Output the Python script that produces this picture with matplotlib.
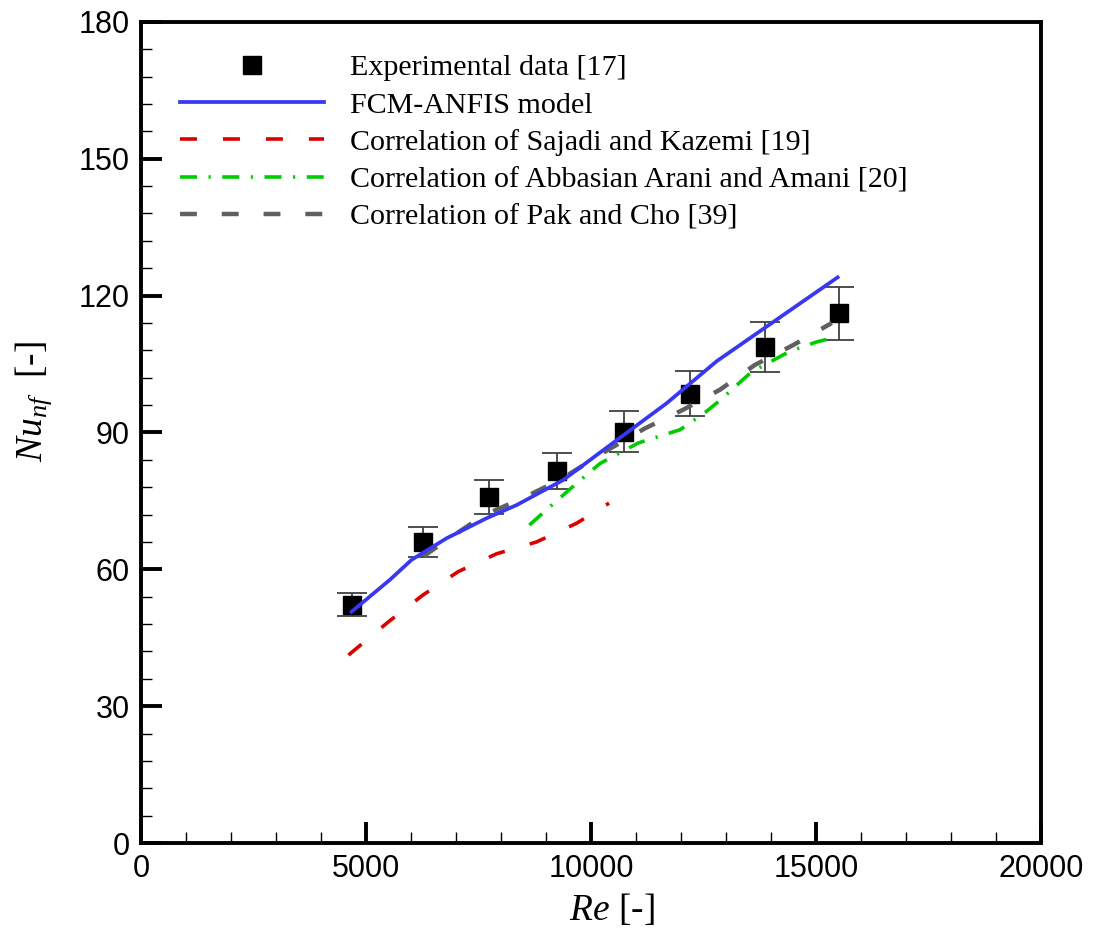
import matplotlib
matplotlib.use('Agg')
import matplotlib.pyplot as plt
from matplotlib.ticker import MultipleLocator

plt.rcParams['mathtext.fontset'] = 'custom'
plt.rcParams['mathtext.it'] = 'Liberation Serif:italic'
plt.rcParams['mathtext.rm'] = 'Liberation Serif'

# experimental data [17]
re_exp = [4680, 6270, 7730, 9250, 10740, 12210, 13870, 15510]
nu_exp = [52.2, 66.0, 75.9, 81.6, 90.2, 98.5, 108.8, 116.1]
nu_err = [2.5, 3.2, 3.7, 3.9, 4.5, 5.0, 5.5, 5.8]

# FCM-ANFIS model
re_anfis = [4680, 5530, 6015, 6790, 7680, 8350, 9385, 10200, 11680, 12790, 13900, 15480]
nu_anfis = [50.7, 57.7, 62.1, 66.8, 71.2, 74.1, 79.6, 85.6, 96.4, 105.6, 113.2, 124.0]

# Sajadi and Kazemi [19]
re_sk = [4610, 5500, 6270, 7050, 7900, 8790, 9680, 10400]
nu_sk = [41.2, 48.5, 54.4, 59.5, 63.4, 66.0, 70.1, 74.5]

# Abbasian Arani and Amani [20]
re_aa = [8630, 9130, 9640, 10200, 11050, 11980, 12550, 12860, 13570, 14420, 15000, 15400]
nu_aa = [69.7, 74.1, 78.5, 83.2, 87.7, 90.6, 94.5, 97.0, 103.3, 107.8, 109.8, 110.8]

# Pak and Cho [39]
re_pc = [6270, 6790, 7610, 8460, 9310, 10380, 11200, 12050, 12870, 13640, 14500, 15350]
nu_pc = [62.8, 66.4, 71.8, 75.5, 79.6, 86.2, 90.9, 95.0, 99.4, 104.8, 109.2, 114.0]

fig = plt.figure(figsize=(10.93, 9.31), dpi=100)
ax = fig.add_axes([0.129, 0.0945, 0.8235, 0.882])

ax.errorbar(re_exp, nu_exp, yerr=nu_err, fmt='none', ecolor='#404040',
            elinewidth=1.3, capsize=10.5, capthick=1.3, zorder=1)
ax.plot(re_exp, nu_exp, 's', color='black', markersize=12.5, linestyle='none',
        label='Experimental data [17]', zorder=2)
ax.plot(re_anfis, nu_anfis, color='#3838f2', lw=2.7, label='FCM-ANFIS model', zorder=4)
ax.plot(re_sk, nu_sk, color='#dd0000', lw=2.6, dashes=(4.7, 7.2),
        label='Correlation of Sajadi and Kazemi [19]', zorder=3)
ax.plot(re_aa, nu_aa, color='#00cc00', lw=2.6, dashes=(4.7, 3.2, 0.6, 3.2),
        label='Correlation of Abbasian Arani and Amani [20]', zorder=3)
ax.plot(re_pc, nu_pc, color='#606060', lw=3.2, dashes=(3.8, 5.6),
        label='Correlation of Pak and Cho [39]', zorder=3)

ax.set_xlim(0, 20000)
ax.set_ylim(0, 180)
ax.xaxis.set_major_locator(MultipleLocator(5000))
ax.xaxis.set_minor_locator(MultipleLocator(1000))
ax.yaxis.set_major_locator(MultipleLocator(30))
ax.yaxis.set_minor_locator(MultipleLocator(6))
ax.tick_params(which='major', direction='in', length=15, width=2.8,
               labelsize=22, pad=8, top=False, right=False)
ax.tick_params(which='minor', direction='in', length=8, width=1.0,
               top=False, right=False)
for lab in ax.get_xticklabels() + ax.get_yticklabels():
    lab.set_fontfamily('Liberation Sans')
for s in ax.spines.values():
    s.set_linewidth(2.8)

ax.set_xlabel('$Re$ [-]', fontsize=27, family='Liberation Serif', labelpad=6)
ax.set_ylabel('$Nu_{nf}$  [-]', fontsize=27, family='Liberation Serif', labelpad=17.5)
ax.xaxis.label.set_x(0.523)
ax.yaxis.label.set_y(0.538)

leg = ax.legend(loc='upper left', bbox_to_anchor=(0.03, 0.975), frameon=False,
                prop={'family': 'Liberation Serif', 'size': 21.6},
                handlelength=4.8, handletextpad=0.87, labelspacing=0.34,
                borderaxespad=0.0)

fig.savefig('out.png', dpi=100)
